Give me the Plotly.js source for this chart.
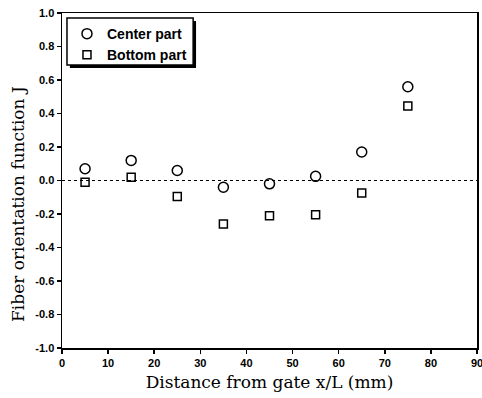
<!DOCTYPE html>
<html>
<head>
<meta charset="utf-8">
<script src="https://cdn.plot.ly/plotly-3.0.1.min.js"></script>
<style>html,body{margin:0;padding:0;background:#fff;}#chart{width:482px;height:398px;}</style>
</head>
<body>
<div id="chart"></div>
<script>
const positions = [5, 15, 25, 35, 45, 55, 65, 75];
const centerPart = [0.07, 0.12, 0.06, -0.04, -0.02, 0.025, 0.17, 0.56];
const bottomPart = [-0.01, 0.02, -0.095, -0.26, -0.21, -0.205, -0.075, 0.445];
const yTicks = [-1.0, -0.8, -0.6, -0.4, -0.2, 0.0, 0.2, 0.4, 0.6, 0.8, 1.0];
const xTicks = [0, 10, 20, 30, 40, 50, 60, 70, 80, 90];

const tickFont = {family: 'Liberation Sans, Arial, sans-serif', size: 11, color: '#000', weight: 'bold'};
const titleFont = {family: 'DejaVu Serif, serif', size: 17, color: '#000'};

const traces = [
  {
    x: positions, y: centerPart, type: 'scatter', mode: 'markers', name: 'Center part',
    marker: {symbol: 'circle-open', size: 10, color: '#000', line: {width: 1.5, color: '#000'}},
    cliponaxis: false
  },
  {
    x: positions, y: bottomPart, type: 'scatter', mode: 'markers', name: 'Bottom part',
    marker: {symbol: 'square-open', size: 8, color: '#000', line: {width: 1.5, color: '#000'}},
    cliponaxis: false
  }
];

const layout = {
  width: 482, height: 398,
  margin: {l: 62, r: 5, t: 13, b: 50},
  paper_bgcolor: '#fff', plot_bgcolor: '#fff',
  showlegend: true,
  legend: {
    x: 0.012, y: 0.985, xanchor: 'left', yanchor: 'top',
    bgcolor: 'rgba(0,0,0,0)', borderwidth: 0,
    font: {family: 'Liberation Sans, Arial, sans-serif', size: 14, color: '#000', weight: 'bold'},
    tracegroupgap: 0, itemwidth: 30
  },
  xaxis: {
    range: [0, 90], tickvals: xTicks, ticktext: xTicks.map(String),
    ticks: 'outside', ticklen: 4, tickwidth: 1.5, tickcolor: '#000',
    showline: true, linecolor: '#000', linewidth: 1.5, mirror: true,
    showgrid: false, zeroline: false, tickfont: tickFont, ticklabeloverflow: 'allow',
    title: {text: 'Distance from gate x/L (mm)', font: titleFont, standoff: 8}
  },
  yaxis: {
    range: [-1.0, 1.0], tickvals: yTicks, ticktext: yTicks.map(v => v.toFixed(1)),
    ticks: 'outside', ticklen: 4, tickwidth: 1.5, tickcolor: '#000',
    showline: true, linecolor: '#000', linewidth: 1.5, mirror: true,
    showgrid: false, zeroline: false, tickfont: tickFont, ticklabeloverflow: 'allow'
  },
  shapes: [{
    type: 'rect', xref: 'paper', yref: 'paper', x0: 0.019, x1: 0.323, y0: 0.836, y1: 0.976,
    fillcolor: '#000', line: {width: 0}, layer: 'below'
  }, {
    type: 'rect', xref: 'paper', yref: 'paper', x0: 0.012, x1: 0.316, y0: 0.845, y1: 0.985,
    fillcolor: '#fff', line: {width: 1.5, color: '#000'}, layer: 'below'
  }, {
    type: 'line', xref: 'paper', x0: 0, x1: 1, yref: 'y', y0: 0, y1: 0,
    line: {color: '#000', width: 1, dash: 'dot'}
  }],
  annotations: [{
    text: 'Fiber orientation function J', xref: 'paper', yref: 'paper',
    x: -0.106, y: 0.43, xanchor: 'center', yanchor: 'middle', textangle: -90,
    showarrow: false, font: titleFont
  }]
};

Plotly.newPlot('chart', traces, layout, {displayModeBar: false, staticPlot: true});
</script>
</body>
</html>
